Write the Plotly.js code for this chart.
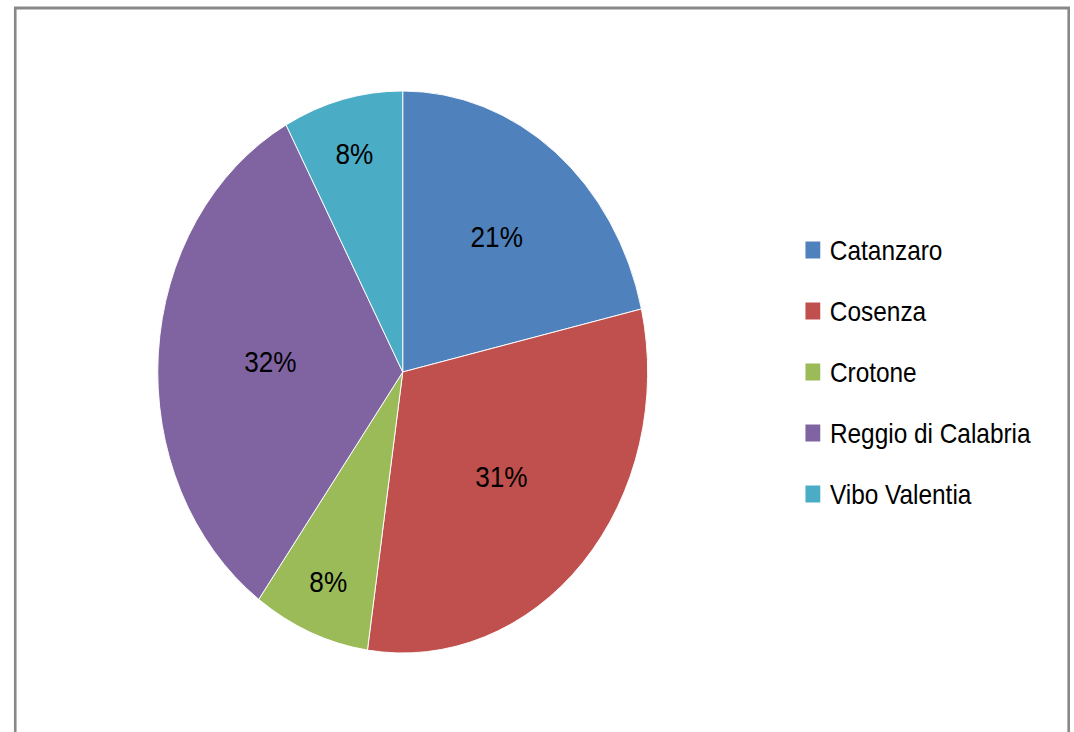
<!DOCTYPE html>
<html>
<head>
<meta charset="utf-8">
<script src="https://cdn.plot.ly/plotly-3.0.1.min.js"></script>
<style>
  html, body { margin: 0; padding: 0; overflow: hidden; background: #fff; width: 1074px; height: 732px; }
  #chart { width: 1232px; height: 732px; transform: scaleX(0.8717); transform-origin: 0 0; }
</style>
</head>
<body>
<div id="chart"></div>
<script>
const provinces = ["Catanzaro", "Cosenza", "Crotone", "Reggio di Calabria", "Vibo Valentia"];
const shares = [21.4, 30.9, 7.7, 32.1, 7.9];
const colors = ["#4F81BD", "#C0504D", "#9BBB59", "#8064A2", "#4BACC6"];

const W = 1232, H = 732;
const fontFam = "Liberation Sans, Arial, sans-serif";

// custom legend (built from the data arrays)
const legendTop = 250, legendStep = 61;
const markX0 = 924, markSize = 17, textX = 950;
const shapes = [];
const annotations = [];
provinces.forEach((p, i) => {
  const cy = legendTop + i * legendStep;
  shapes.push({
    type: "rect", xref: "paper", yref: "paper",
    x0: markX0 / W, x1: (markX0 + markSize) / W,
    y0: 1 - (cy + markSize / 2) / H, y1: 1 - (cy - markSize / 2) / H,
    fillcolor: colors[i], line: { width: 0 }
  });
  annotations.push({
    xref: "paper", yref: "paper", x: textX / W, y: 1 - cy / H,
    xanchor: "left", yanchor: "middle", showarrow: false,
    text: p, font: { family: fontFam, size: 28, color: "#000" }
  });
});
// chart border
shapes.push({
  type: "rect", xref: "paper", yref: "paper",
  x0: 17.5 / W, x1: 1226 / W, y0: -0.05, y1: 1 - 8 / H,
  line: { color: "#888888", width: 3 }, fillcolor: "rgba(0,0,0,0)"
});

const cx = 462, cyc = 372, R = 281;
const data = [{
  type: "pie",
  labels: provinces,
  values: shares,
  marker: { colors: colors, line: { color: "#ffffff", width: 1 } },
  sort: false,
  direction: "clockwise",
  rotation: 0,
  texttemplate: "%{percent:.0%}",
  textposition: "inside",
  insidetextorientation: "horizontal",
  textfont: { family: fontFam, size: 30, color: "#000" },
  hoverinfo: "label+percent",
  showlegend: false,
  domain: { x: [(cx - R) / W, (cx + R) / W], y: [1 - (cyc + R) / H, 1 - (cyc - R) / H] }
}];

const layout = {
  width: W, height: H,
  margin: { l: 0, r: 0, t: 0, b: 0 },
  paper_bgcolor: "#ffffff",
  showlegend: false,
  shapes: shapes,
  annotations: annotations,
  font: { family: fontFam }
};

Plotly.newPlot("chart", data, layout, { displayModeBar: false, staticPlot: true });
</script>
</body>
</html>
